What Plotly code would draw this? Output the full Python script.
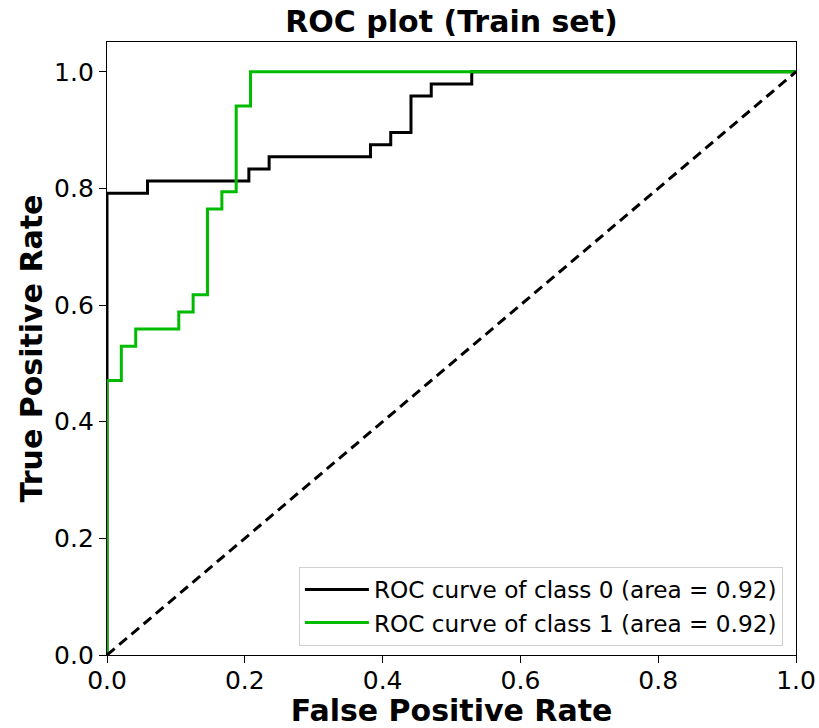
import plotly.graph_objects as go

# Class 0 ROC curve (false positive rate, true positive rate)
fpr_class0 = [0.0, 0.0, 0.0588, 0.0588, 0.2059, 0.2059, 0.2353, 0.2353, 0.3824, 0.3824,
              0.4118, 0.4118, 0.4412, 0.4412, 0.4706, 0.4706, 0.5294, 0.5294, 1.0]
tpr_class0 = [0.0, 0.7917, 0.7917, 0.8125, 0.8125, 0.8333, 0.8333, 0.8542, 0.8542, 0.875,
              0.875, 0.8958, 0.8958, 0.9583, 0.9583, 0.9792, 0.9792, 1.0, 1.0]

# Class 1 ROC curve
fpr_class1 = [0.0, 0.0, 0.0208, 0.0208, 0.0417, 0.0417, 0.1042, 0.1042, 0.125, 0.125,
              0.1458, 0.1458, 0.1667, 0.1667, 0.1875, 0.1875, 0.2083, 0.2083, 1.0]
tpr_class1 = [0.0, 0.4706, 0.4706, 0.5294, 0.5294, 0.5588, 0.5588, 0.5882, 0.5882, 0.6176,
              0.6176, 0.7647, 0.7647, 0.7941, 0.7941, 0.9412, 0.9412, 1.0, 1.0]

labels = ["ROC curve of class 0 (area = 0.92)", "ROC curve of class 1 (area = 0.92)"]
colors = ["#000000", "#00bb00"]
chance = [0.0, 1.0]

FONT = "DejaVu Sans"

fig = go.Figure()
fig.add_trace(go.Scatter(x=fpr_class0, y=tpr_class0, mode="lines", name=labels[0],
                         line=dict(color=colors[0], width=3)))
fig.add_trace(go.Scatter(x=fpr_class1, y=tpr_class1, mode="lines", name=labels[1],
                         line=dict(color=colors[1], width=3)))
fig.add_trace(go.Scatter(x=chance, y=chance, mode="lines", showlegend=False,
                         line=dict(color="black", width=3, dash="10px,6px")))

axis_common = dict(
    showline=True, linecolor="black", linewidth=1.3, mirror=True,
    ticks="outside", ticklen=7, tickwidth=1.3, tickcolor="black",
    showgrid=False, zeroline=False, automargin=False,
    tickfont=dict(family=FONT, size=25, color="black"),
    tickformat=".1f", dtick=0.2,
)

fig.update_layout(
    width=819, height=728,
    paper_bgcolor="white", plot_bgcolor="white",
    margin=dict(l=107, r=23, t=42, b=73),
    title=dict(text="<b>ROC plot (Train set)</b>", x=0.5, xref="paper", xanchor="center",
               y=0.9698, yanchor="middle",
               font=dict(family=FONT, size=30, color="black")),
    xaxis=dict(range=[0, 1], ticklabelstandoff=-4,
               title=dict(text="<b>False Positive Rate</b>", standoff=0,
                          font=dict(family=FONT, size=30, color="black")), **axis_common),
    yaxis=dict(range=[0, 1.051],
               title=dict(text="<b>True Positive Rate</b>", standoff=2,
                          font=dict(family=FONT, size=30, color="black")), **axis_common),
    legend=dict(x=0.981, y=0.015, xanchor="right", yanchor="bottom",
                bgcolor="rgba(255,255,255,0.8)", bordercolor="#d0d0d0", borderwidth=1,
                itemwidth=64,
                font=dict(family=FONT, size=23.2, color="black")),
    showlegend=True,
)

fig.write_html("out.html", config={"displayModeBar": False},
               post_script="document.body.style.margin='0';document.body.style.overflow='hidden';")
